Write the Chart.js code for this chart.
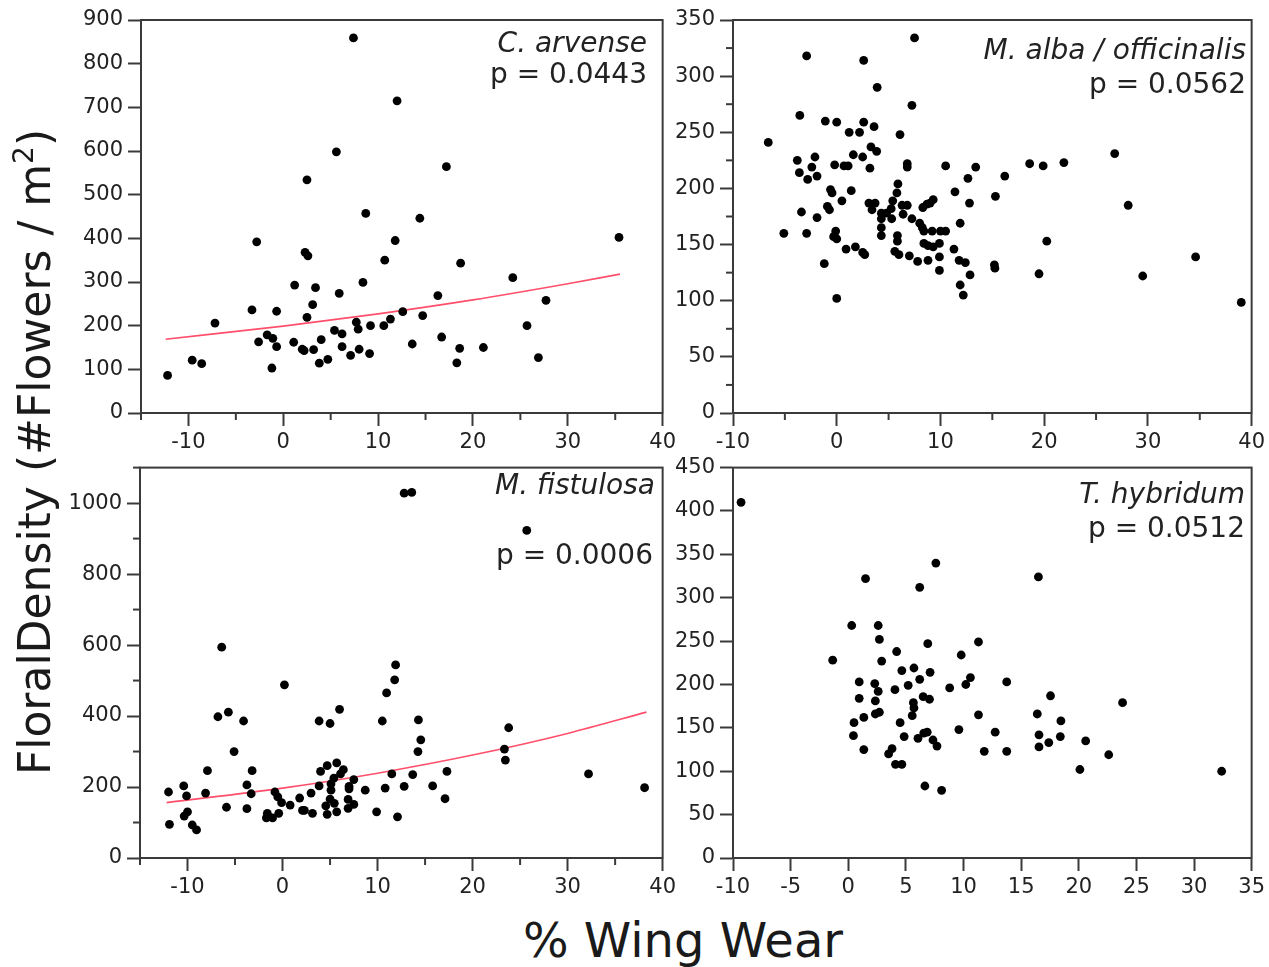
<!DOCTYPE html>
<html><head><meta charset="utf-8">
<script src="https://cdn.jsdelivr.net/npm/chart.js@4.4.1/dist/chart.umd.min.js"></script>
<style>
html,body{margin:0;padding:0;background:#fff;}
body{width:1269px;height:967px;position:relative;overflow:hidden;font-family:"DejaVu Sans",sans-serif;color:#1a1a1a;}
canvas{position:absolute;}
.ann{position:absolute;font-size:28px;text-align:right;white-space:nowrap;color:#222;}
.ann i{font-style:italic;}
#ytitle{position:absolute;left:-315px;top:427px;width:700px;height:50px;line-height:50px;font-size:44px;text-align:center;transform:rotate(-90deg);transform-origin:50% 50%;white-space:nowrap;}
#ytitle sup{font-size:28px;vertical-align:0;position:relative;top:-17px;}
#xtitle{position:absolute;left:383px;top:916px;width:600px;line-height:48px;font-size:48px;text-align:center;white-space:nowrap;}
</style></head><body>
<canvas id="c1" width="680" height="460" style="left:0;top:0"></canvas>
<canvas id="c2" width="604" height="460" style="left:665px;top:0"></canvas>
<canvas id="c3" width="680" height="455" style="left:0;top:450px"></canvas>
<canvas id="c4" width="604" height="455" style="left:665px;top:450px"></canvas>

<div class="ann" style="right:622px;top:27px;line-height:31px"><i>C. arvense</i><br>p = 0.0443</div>
<div class="ann" style="right:23px;top:33px;line-height:34px"><i>M. alba / officinalis</i><br>p = 0.0562</div>
<div class="ann" style="right:614px;top:469px;line-height:31px"><i>M. fistulosa</i></div>
<div class="ann" style="right:616px;top:539px;line-height:31px">p = 0.0006</div>
<div class="ann" style="right:24px;top:477px;line-height:34px"><i>T. hybridum</i><br>p = 0.0512</div>

<div id="ytitle">FloralDensity (#Flowers / m<sup>2</sup>)</div>
<div id="xtitle">% Wing Wear</div>

<script>
// ---------- C. arvense ----------
const arvenseX = [7.4, 12.0, 5.6, 2.5, 8.7, -2.8, 11.8, 2.3, 2.6, 10.7, 1.2, 3.4, 8.4, 5.9, -3.3, -0.7, 3.1, 2.5, -7.2, 7.7, 7.9, 9.2, 10.6, 11.3, 5.4, 6.2, -1.7, -1.1, -2.6, -0.7, 1.1, 2.0, 2.2, 3.2, 4.0, 6.2, 7.1, 8.0, 9.1, 3.8, 4.7, -1.2, -9.6, -8.6, -12.2,
  17.2, 14.4, 18.7, 24.2, 16.3, 27.7, 12.6, 14.7, 25.7, 13.6, 16.7, 18.6, 18.3, 21.1, 26.9, 35.4];
const arvenseY = [859, 715, 598, 534, 457, 392, 395, 368, 360, 350, 293, 287, 299, 274, 236, 233, 248, 219, 206, 208, 192, 200, 200, 215, 189, 181, 179, 171, 163, 152, 162, 146, 143, 145, 168, 152, 132, 146, 136, 114, 123, 103, 121, 113, 86,
  564, 446, 343, 310, 269, 258, 232, 223, 200, 158, 174, 148, 115, 150, 127, 402];
const arvenseFitX = [-12.4, 0, 10, 20, 30, 35.5];
const arvenseFitY = [169, 199, 227, 259, 296, 318];

// ---------- M. alba / officinalis ----------
const albaX = [7.5, -2.9, 2.6, 3.9, 7.25, -3.56, -1.1, 0.0, 2.6, 3.6, 1.2, 2.2, 6.1, -6.6, 3.3, 3.85, 1.6, -2.1, 2.5, -3.8,
  6.8, -0.2, 0.7, 1.1, -2.4, 6.8, 10.5, 3.2, -3.6, -1.9, -2.8, 5.9, -0.6, 1.4, -0.45, 5.8, 0.5, 3.1, 3.7, 5.4,
  6.3, 6.8, -0.9, -0.7, 3.4, 4.3, 4.8, 5.25, 8.3, 8.7, 9.0, 9.3, 6.4, -3.4, -1.9, 4.3, 5.3, 7.25, 8.0, 8.25,
  8.4, 9.2, 10.0, 10.5, 4.3, 4.3, 5.85, 5.85, -0.1, -0.3, 0.0, -5.1, -2.9, 8.4, 8.8, 9.3, 9.9, 11.9, 11.4, 0.9,
  1.8, 2.5, 2.7, 5.6, 6.0, 7.0, 7.8, 8.8, 9.9, 11.3, 11.8, 12.4, 12.85, 9.9, -1.2, 11.9, 12.2, 0.0, 12.65, 12.8, 13.4,
  16.2, 15.3, 18.6, 19.9, 21.9, 26.8, 28.1, 20.25, 15.2, 15.25, 19.5, 34.6, 29.5, 39.0];
const albaY = [334, 318, 314, 290, 274, 265, 260, 259, 259, 255, 250, 250, 248, 241, 237, 233, 230, 228, 228, 225,
  222, 221, 220, 220, 219, 219, 220, 218, 214, 211, 208, 204, 199, 198, 196, 196, 189, 187, 187, 189,
  185, 185, 184, 181, 181, 178, 178, 182, 183, 186, 187, 190, 177, 179, 174, 173, 173, 173, 169, 165,
  162, 162, 162, 162, 165, 158, 158, 153, 162, 157, 155, 160, 160, 151, 149, 148, 151, 169, 197, 146,
  148, 143, 141, 144, 141, 140, 135, 136, 139, 146, 136, 134, 123, 127, 133, 114, 105, 102, 209, 187, 219,
  211, 193, 222, 220, 223, 231, 185, 153, 132, 129, 124, 139, 122, 98.5];

// ---------- M. fistulosa ----------
const fistX = [-6.4, 0.2, -6.8, -5.7, -4.1, -5.1, -7.9, -3.2, -12.0, -10.4, -10.1, -8.1, -11.9, -10.35, -10.0, -9.5, -9.05, -5.9, -3.75, -3.3,
  -3.75, -0.8, -0.5, -0.1, -1.6, -1.7, -1.05, -0.4, 0.8, 1.8, 2.1, 2.3, 3.15, 3.0, 3.85, 5.0, 6.0, 4.0, 4.7, 5.7,
  6.4, 6.1, 5.4, 3.85, 5.1, 5.1, 7.0, 7.5, 7.0, 4.55, 5.0, 5.45, 4.7, 5.7, 6.9, 7.5, 6.9, 8.7, 9.9, 10.5,
  10.95, 11.8, 11.9, 10.8, 11.5, 12.1,
  12.8, 13.6, 25.7, 14.3, 14.55, 14.25, 13.7, 12.8, 15.8, 17.3, 17.1, 23.8, 23.35, 23.45, 32.2, 38.1];
const fistY = [594, 488, 398, 411, 386, 300, 246, 246, 186, 203, 175, 183, 95, 118, 130, 93, 79, 143, 206, 181,
  139, 186, 172, 156, 126, 113, 113, 126, 149, 169, 134, 134, 126, 183, 386, 379, 419, 244, 260, 268,
  249, 237, 225, 203, 209, 191, 202, 221, 195, 147, 166, 154, 123, 130, 165, 151, 140, 191, 130, 386,
  465, 502, 544, 197, 237, 116,
  1028, 1030, 923, 389, 333, 300, 235, 202, 203, 244, 167, 367, 307, 276, 237, 198];
const fistFitX = [-12.2, 0, 10, 20, 30, 38.3];
const fistFitY = [156, 197, 239, 290, 351, 411];

// ---------- T. hybridum ----------
const hybX = [-9.3, 7.6, 1.5, 6.2, 0.3, 2.6, 2.7, 6.9, -1.35, 4.2, 2.9, 5.7, 4.65, 7.1, 6.2, 0.95, 2.3, 2.6, 4.05, 5.2,
  8.8, 9.8, 10.2, 10.6, 0.95, 2.35, 5.65, 6.5, 7.05, 5.7, 2.35, 2.7, 5.55, 0.5, 1.35, 4.5, 0.45, 4.85, 6.05, 6.55,
  6.85, 7.35, 7.7, 9.6, 1.35, 3.5, 3.8, 4.1, 4.65, 6.65, 8.1,
  11.3, 11.3, 16.5, 13.75, 17.55, 16.4, 18.45, 12.75, 16.55, 18.4, 20.6, 11.8, 13.75, 16.55, 17.4, 22.6, 20.1, 23.8, 32.4];
const hybY = [410, 340, 322, 312, 268, 268, 252, 247, 228, 238, 227, 219, 216, 214, 206, 203, 201, 192, 194, 199,
  196, 234, 200, 208, 184, 181, 179, 186, 183, 173, 166, 168, 164, 156, 162, 156, 141, 140, 138, 144,
  145, 136, 129, 148, 125, 120, 126, 108, 108, 83, 78,
  249, 165, 324, 203, 187, 166, 158, 145, 142, 140, 135, 123, 123, 128, 133, 119, 102, 179, 100];

// ---------- axis tick settings ----------
const arvenseXTicks = {min: -15, max: 40, step: 5, major: 10};
const arvenseYTicks = {min: 0, max: 900, step: 100, major: 100};
const albaXTicks = {min: -10, max: 40, step: 5, major: 10};
const albaYTicks = {min: 0, max: 350, step: 25, major: 50};
const fistXTicks = {min: -15, max: 40, step: 5, major: 10};
const fistYTicks = {min: 0, max: 1100, step: 100, major: 200};
const hybXTicks = {min: -10, max: 35, step: 5, major: 5};
const hybYTicks = {min: 0, max: 450, step: 50, major: 50};

const AXIS = '#3a3a3a';
const LABEL = '#222';
Chart.defaults.font.family = '"DejaVu Sans", sans-serif';

function isMajor(v, major) {
  return Math.abs(Math.round(v / major) * major - v) < 1e-6;
}
function zip(xs, ys) { return xs.map((x, i) => ({x: x, y: ys[i]})); }

const boxPlugin = {
  id: 'boxAndMinor',
  afterDraw(chart) {
    const ctx = chart.ctx;
    ctx.save();
    ctx.strokeStyle = AXIS;
    ctx.lineWidth = 2;
    ['x', 'y'].forEach(id => {
      const s = chart.scales[id];
      const major = chart.$major[id];
      s.ticks.forEach(t => {
        if (isMajor(t.value, major)) return;
        const p = s.getPixelForValue(t.value);
        ctx.beginPath();
        if (id === 'x') { ctx.moveTo(p, s.top); ctx.lineTo(p, s.top + 7); }
        else { ctx.moveTo(s.right, p); ctx.lineTo(s.right - 7, p); }
        ctx.stroke();
      });
    });
    const a = chart.chartArea;
    ctx.strokeRect(a.left, a.top, a.right - a.left, a.bottom - a.top);
    ctx.restore();
  }
};

function axis(t, isX, size) {
  return {
    type: 'linear',
    min: t.min, max: t.max,
    afterFit: s => { if (isX) s.height = size; else s.width = size; },
    border: {display: true, color: AXIS, width: 2},
    grid: {
      display: true, drawOnChartArea: false, drawTicks: true, tickLength: 13, tickWidth: 2,
      tickColor: c => isMajor(c.tick.value, t.major) ? AXIS : 'rgba(0,0,0,0)'
    },
    ticks: {
      stepSize: t.step, autoSkip: false, maxRotation: 0, minRotation: 0,
      padding: isX ? 4 : 5, color: LABEL, font: {size: 21},
      callback: v => isMajor(v, t.major) ? String(v) : ''
    }
  };
}

function makeChart(id, xs, ys, fitX, fitY, xt, yt, yWidth, pad) {
  const datasets = [{
    type: 'scatter', data: zip(xs, ys),
    pointRadius: 4.4, pointBackgroundColor: '#000', pointBorderWidth: 0, pointHoverRadius: 4.4
  }];
  if (fitX) {
    datasets.push({
      type: 'line', data: zip(fitX, fitY), showLine: true, pointRadius: 0,
      borderColor: '#ff4f6b', borderWidth: 1.6, cubicInterpolationMode: 'monotone', fill: false
    });
  }
  const ch = new Chart(document.getElementById(id), {
    type: 'scatter',
    data: {datasets},
    options: {
      responsive: false, animation: false, devicePixelRatio: 1,
      layout: {padding: pad},
      plugins: {legend: {display: false}, tooltip: {enabled: false}},
      events: [],
      scales: {x: axis(xt, true, 47), y: axis(yt, false, yWidth)}
    },
    plugins: [{id: 'majors', beforeInit(c) { c.$major = {x: xt.major, y: yt.major}; }}, boxPlugin]
  });
  return ch;
}

makeChart('c1', arvenseX, arvenseY, arvenseFitX, arvenseFitY, arvenseXTicks, arvenseYTicks, 141, {left: 0, top: 20, right: 16, bottom: 0});
makeChart('c2', albaX, albaY, null, null, albaXTicks, albaYTicks, 68, {left: 0, top: 20, right: 13, bottom: 0});
makeChart('c3', fistX, fistY, fistFitX, fistFitY, fistXTicks, fistYTicks, 140, {left: 0, top: 15, right: 16, bottom: 0});
makeChart('c4', hybX, hybY, null, null, hybXTicks, hybYTicks, 68, {left: 0, top: 15, right: 13, bottom: 0});
</script>
</body></html>
